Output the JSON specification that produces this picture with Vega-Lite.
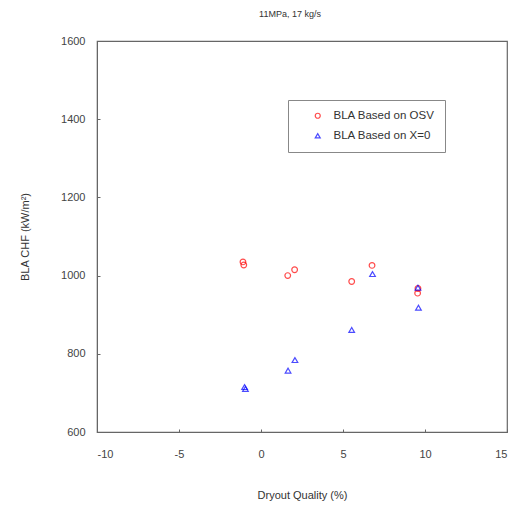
{
  "$schema": "https://vega.github.io/schema/vega-lite/v6.json",
  "width": 410,
  "height": 391,
  "autosize": "none",
  "padding": {"left": 97, "top": 41, "right": 11, "bottom": 78},
  "background": "white",
  "title": {
    "text": "11MPa, 17 kg/s",
    "fontSize": 9,
    "font": "Liberation Sans",
    "fontWeight": "normal",
    "color": "#333333",
    "anchor": "middle",
    "offset": 16,
    "dx": -12
  },
  "config": {
    "view": {"stroke": "#666666", "strokeWidth": 1.2},
    "axis": {
      "grid": false,
      "domainColor": "#666666",
      "tickColor": "#666666",
      "labelFont": "Liberation Sans",
      "titleFont": "Liberation Sans",
      "labelFontSize": 11,
      "titleFontSize": 11,
      "labelColor": "#444444",
      "titleColor": "#333333",
      "titleFontWeight": "normal",
      "tickSize": -3,
      "labelExpr": "toString(datum.value)"
    }
  },
  "data": {
    "values": [
      {"series": "BLA Based on OSV", "q": -1.1, "chf": 1035},
      {"series": "BLA Based on OSV", "q": -1.05, "chf": 1027},
      {"series": "BLA Based on OSV", "q": 1.63, "chf": 1000},
      {"series": "BLA Based on OSV", "q": 2.05, "chf": 1015},
      {"series": "BLA Based on OSV", "q": 5.53, "chf": 985},
      {"series": "BLA Based on OSV", "q": 6.77, "chf": 1026},
      {"series": "BLA Based on OSV", "q": 9.57, "chf": 967},
      {"series": "BLA Based on OSV", "q": 9.55, "chf": 955},
      {"series": "BLA Based on X=0", "q": -1.0, "chf": 715},
      {"series": "BLA Based on X=0", "q": -0.95, "chf": 710},
      {"series": "BLA Based on X=0", "q": 1.65, "chf": 757},
      {"series": "BLA Based on X=0", "q": 2.07, "chf": 784},
      {"series": "BLA Based on X=0", "q": 5.53, "chf": 861},
      {"series": "BLA Based on X=0", "q": 6.8, "chf": 1004},
      {"series": "BLA Based on X=0", "q": 9.57, "chf": 969},
      {"series": "BLA Based on X=0", "q": 9.6, "chf": 918}
    ]
  },
  "mark": {"type": "point", "filled": false, "strokeWidth": 1.2, "size": 32},
  "encoding": {
    "x": {
      "field": "q",
      "type": "quantitative",
      "scale": {"domain": [-10, 15], "nice": false, "zero": false},
      "axis": {"values": [-10, -5, 0, 5, 10, 15], "title": "Dryout Quality (%)", "labelPadding": 19, "titlePadding": 30}
    },
    "y": {
      "field": "chf",
      "type": "quantitative",
      "scale": {"domain": [600, 1600], "nice": false, "zero": false},
      "axis": {"values": [600, 800, 1000, 1200, 1400, 1600], "title": "BLA CHF (kW/m²)", "labelPadding": 15, "titlePadding": 30}
    },
    "color": {
      "field": "series",
      "type": "nominal",
      "scale": {"domain": ["BLA Based on OSV", "BLA Based on X=0"], "range": ["#FF0000", "#0000FF"]},
      "legend": {
        "title": null,
        "orient": "none",
        "legendX": 191,
        "legendY": 59,
        "strokeColor": "#888888",
        "fillColor": "white",
        "padding": 10,
        "labelFont": "Liberation Sans",
        "labelFontSize": 11.5,
        "labelColor": "#333333",
        "symbolSize": 25,
        "symbolStrokeWidth": 1.2,
        "rowPadding": 7,
        "labelOffset": 10,
        "symbolOffset": 14,
        "labelLimit": 200
      }
    },
    "shape": {
      "field": "series",
      "type": "nominal",
      "scale": {"domain": ["BLA Based on OSV", "BLA Based on X=0"], "range": ["circle", "triangle-up"]}
    }
  }
}
